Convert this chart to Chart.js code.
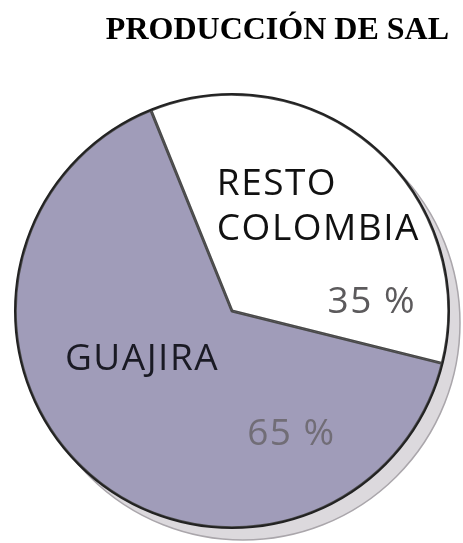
<!DOCTYPE html>
<html lang="es">
<head>
  <meta charset="UTF-8">
  <title>Producción de sal</title>
  <script src="https://cdn.jsdelivr.net/npm/chart.js"></script>
  <style>
    body { margin: 0; background: #fff; }
    #wrap { width: 463px; height: 543px; }
  </style>
</head>
<body>
  <div id="wrap"><canvas id="pie"></canvas></div>
  <script>
    const regiones = ['RESTO COLOMBIA', 'GUAJIRA'];
    const porcentajes = [35, 65];
    const colores = ['#ffffff', '#a09cb9'];

    // label text placed relative to the pie centre (fractions of radius)
    const etiquetas = [
      { lines: ['RESTO', 'COLOMBIA'], color: '#111', dx: -0.07, dy: -0.535 },
      { lines: ['35 %'], color: '#5c5a5c', dx: 0.44, dy: 0.01 },
      { lines: ['GUAJIRA'], color: '#1a1a24', dx: -0.77, dy: 0.272 },
      { lines: ['65 %'], color: '#716d76', dx: 0.07, dy: 0.617 }
    ];

    const sombra = {
      id: 'sombra',
      beforeDatasetsDraw(chart) {
        const arc = chart.getDatasetMeta(0).data[0];
        const ctx = chart.ctx;
        ctx.save();
        ctx.beginPath();
        ctx.arc(arc.x + 11, arc.y + 12, arc.outerRadius, 0, Math.PI * 2);
        ctx.fillStyle = '#dcd9dd';
        ctx.fill();
        ctx.lineWidth = 1.5;
        ctx.strokeStyle = '#aaa6ab';
        ctx.stroke();
        ctx.restore();
      },
      afterDatasetsDraw(chart) {
        const arc = chart.getDatasetMeta(0).data[0];
        const ctx = chart.ctx;
        const r = arc.outerRadius;
        ctx.save();
        ctx.beginPath();
        ctx.arc(arc.x, arc.y, r, 0, Math.PI * 2);
        ctx.lineWidth = 2;
        ctx.strokeStyle = '#222';
        ctx.stroke();
        ctx.font = '37px "Open Sans", sans-serif';
        ctx.letterSpacing = '1.5px';
        ctx.textAlign = 'left';
        ctx.textBaseline = 'alphabetic';
        etiquetas.forEach(e => {
          ctx.fillStyle = e.color;
          e.lines.forEach((t, i) => {
            ctx.fillText(t, arc.x + e.dx * r, arc.y + e.dy * r + i * 45);
          });
        });
        ctx.restore();
      }
    };

    new Chart(document.getElementById('pie'), {
      type: 'pie',
      data: {
        labels: regiones,
        datasets: [{
          data: porcentajes,
          backgroundColor: colores,
          borderColor: '#4a4a4a',
          borderWidth: 1.5,
          borderAlign: 'inner'
        }]
      },
      options: {
        responsive: true,
        maintainAspectRatio: false,
        animation: false,
        rotation: -22,
        layout: { padding: { left: 15, right: 14, top: 0, bottom: 15 } },
        plugins: {
          legend: { display: false },
          tooltip: { enabled: false },
          title: {
            display: true,
            text: 'PRODUCCIÓN DE SAL',
            align: 'end',
            color: '#000',
            font: { family: '"Liberation Serif", "Times New Roman", serif', size: 32, weight: 'bold', lineHeight: 1.2 },
            padding: { top: 12, bottom: 43.6 }
          }
        }
      },
      plugins: [sombra]
    });
  </script>
</body>
</html>
